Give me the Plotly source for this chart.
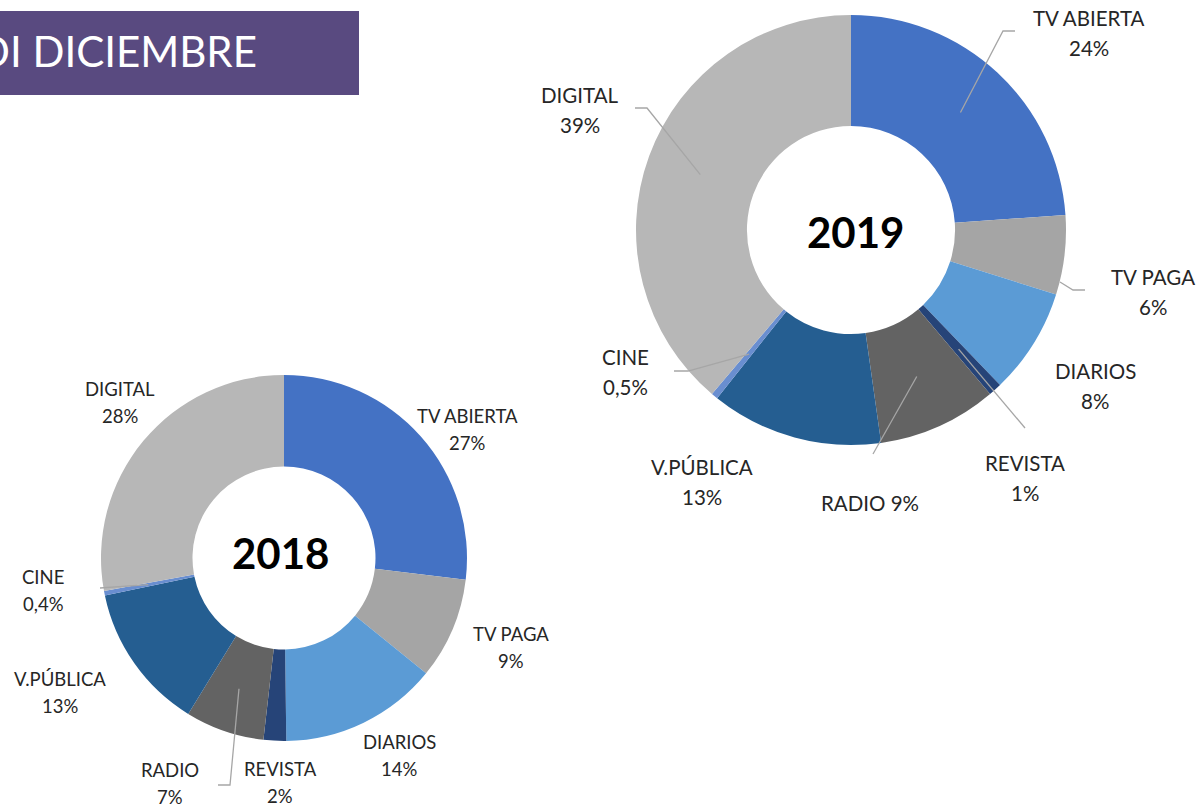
import math
import plotly.graph_objects as go

W, H = 1200, 807

categories = ["TV ABIERTA", "TV PAGA", "DIARIOS", "REVISTA", "RADIO", "V.PÚBLICA", "CINE", "DIGITAL"]
share_2018 = [27, 9, 14, 2, 7, 13, 0.4, 28]
share_2019 = [24, 6, 8, 1, 9, 13, 0.5, 39]
colors = ["#4472C4", "#A5A5A5", "#5B9BD5", "#264478", "#636363", "#255E91", "#698ED0", "#B7B7B7"]

FONT = "Lato"
TEXT_COLOR = "#262626"
LEADER_COLOR = "#A6A6A6"


def px(x, y):
    # pixel position -> paper coordinates
    return x / W, 1 - y / H


def pct(v):
    return (f"{v:g}".replace(".", ",")) + "%"


# chart geometry in pixels: centre, outer radius, hole
charts = {
    "2018": dict(values=share_2018, cx=284, cy=558, r=183, hole=0.5,
                 font=18.5, gap=27, year_font=42, year_pos=(280, 553)),
    "2019": dict(values=share_2019, cx=851, cy=230, r=215, hole=0.484,
                 font=20.5, gap=30, year_font=42, year_pos=(855, 232)),
}

# label block centres (pixels)
label_pos = {
    "2018": [(467, 429), (511, 647), (399, 755), (280, 782),
             (170, 783), (60, 692), (43, 590), (120, 402)],
    "2019": [(1089, 33), (1153, 292), (1095, 386), (1025, 478),
             (870, 503), (702, 482), (625, 372), (580, 110)],
}
single_line = {"2019": ["RADIO"]}

# leader lines: "A" stands for the point in the middle of the slice ring
leaders = {
    "2018": {
        "CINE": ["A", (100, 588)],
        "RADIO": ["A", (230, 785), (218, 785)],
    },
    "2019": {
        "TV ABIERTA": ["A", (1003, 31), (1015, 31)],
        "TV PAGA": [(1060, 282), (1073, 290), (1085, 290)],
        "REVISTA": ["A", (1025, 428)],
        "RADIO": ["A", (873, 454)],
        "CINE": ["A", (688, 371), (674, 371)],
        "DIGITAL": ["A", (647, 108), (635, 108)],
    },
}

fig = go.Figure()
annotations = []
shapes = []

for year, c in charts.items():
    vals = c["values"]
    x0, y1 = px(c["cx"] - c["r"], c["cy"] - c["r"])
    x1, y0 = px(c["cx"] + c["r"], c["cy"] + c["r"])
    fig.add_trace(
        go.Pie(
            labels=categories,
            values=vals,
            hole=c["hole"],
            sort=False,
            direction="clockwise",
            rotation=0,
            marker=dict(colors=colors, line=dict(width=0)),
            textinfo="none",
            hoverinfo="label+percent",
            showlegend=False,
            domain=dict(x=[x0, x1], y=[y0, y1]),
        )
    )

    total = sum(vals)
    ring_r = c["r"] * (1 + c["hole"]) / 2 + 1
    cum = 0
    for i, (cat, v) in enumerate(zip(categories, vals)):
        mid = math.radians(360 * (cum + v / 2) / total)
        cum += v
        anchor = (c["cx"] + ring_r * math.sin(mid), c["cy"] - ring_r * math.cos(mid))

        lx, ly = label_pos[year][i]
        if cat in single_line.get(year, []):
            lines = [f"{cat} {pct(v)}"]
        else:
            lines = [cat, pct(v)]
        n = len(lines)
        for k, t in enumerate(lines):
            ax, ay = px(lx, ly + (k - (n - 1) / 2) * c["gap"])
            annotations.append(dict(
                x=ax, y=ay, xref="paper", yref="paper", text=t,
                showarrow=False, xanchor="center", yanchor="middle",
                font=dict(family=FONT, size=c["font"], color=TEXT_COLOR),
            ))

        pts = leaders[year].get(cat)
        if pts:
            pts = [anchor if p == "A" else p for p in pts]
            path = " ".join(
                ("M" if j == 0 else "L") + " {:.5f} {:.5f}".format(*px(*p))
                for j, p in enumerate(pts)
            )
            shapes.append(dict(type="path", path=path, xref="paper", yref="paper",
                               line=dict(color=LEADER_COLOR, width=1.3)))

    yx, yy = px(*c["year_pos"])
    annotations.append(dict(
        x=yx, y=yy, xref="paper", yref="paper", text=f"<b>{year}</b>",
        showarrow=False, xanchor="center", yanchor="middle",
        font=dict(family=FONT, size=c["year_font"], color="#000000"),
    ))

# purple title banner, cut at the left edge
bx0, by0 = px(0, 95)
bx1, by1 = px(359, 11)
shapes.append(dict(type="rect", xref="paper", yref="paper",
                   x0=bx0 - 0.01, x1=bx1, y0=by0, y1=by1,
                   fillcolor="#594A80", line=dict(width=0), layer="below"))
tx, ty = px(259, 51)
annotations.append(dict(
    x=tx, y=ty, xref="paper", yref="paper", text="DI DICIEMBRE",
    showarrow=False, xanchor="right", yanchor="middle",
    font=dict(family=FONT, size=42, color="#FFFFFF"),
))

fig.update_layout(
    width=W,
    height=H,
    margin=dict(l=0, r=0, t=0, b=0),
    paper_bgcolor="#FFFFFF",
    plot_bgcolor="#FFFFFF",
    annotations=annotations,
    shapes=shapes,
)

# drop the default page margin so the figure fills the window
fig.write_html(
    "out.html",
    config={"displayModeBar": False},
    post_script="document.body.style.margin='0';",
)
